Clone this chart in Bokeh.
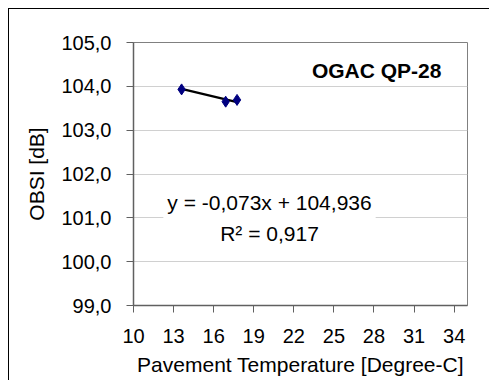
from bokeh.plotting import figure
from bokeh.models import FixedTicker, CustomJSTickFormatter, Label
from bokeh.embed import file_html
from bokeh.resources import INLINE

# data
temps = [13.6, 16.9, 17.75]
obsi = [103.93, 103.65, 103.69]
slope = -0.073
intercept = 104.936
r2_text = "0,917"
eq_text = "y = -0,073x + 104,936"
title_text = "OGAC QP-28"
x_ticks = [10, 13, 16, 19, 22, 25, 28, 31, 34]
y_ticks = [99, 100, 101, 102, 103, 104, 105]

FONT = "Liberation Sans"

# canvas origin at (9, 9): 8px margin + 1px border
p = figure(width=481, height=372, output_backend="svg", toolbar_location=None,
           x_range=(10, 35), y_range=(99, 105),
           min_border_left=124, min_border_right=23, min_border_top=33, min_border_bottom=76,
           styles={"margin-left": "8px", "margin-top": "8px",
                   "border-left": "1px solid black", "border-top": "1px solid black"})
p.outline_line_color = "#808080"
p.outline_line_width = 1
p.background_fill_color = "white"
p.border_fill_color = "white"

p.xgrid.grid_line_color = None
p.ygrid.grid_line_color = "#d0d0d0"
p.ygrid.grid_line_width = 1

for ax in (p.xaxis[0], p.yaxis[0]):
    ax.axis_line_color = "#606060"
    ax.axis_line_width = 1.5
    ax.major_tick_line_color = "#606060"
    ax.major_tick_out = 7
    ax.major_tick_in = 0
    ax.minor_tick_line_color = None
    ax.major_label_text_font = FONT
    ax.major_label_text_font_size = "20px"
    ax.major_label_text_color = "black"
    ax.axis_label_text_font = FONT
    ax.axis_label_text_font_size = "21px"
    ax.axis_label_text_font_style = "normal"
    ax.axis_label_text_color = "black"

p.xaxis.ticker = FixedTicker(ticks=x_ticks)
p.yaxis.ticker = FixedTicker(ticks=y_ticks)
p.yaxis.formatter = CustomJSTickFormatter(code="return tick.toFixed(1).replace('.', ',');")
p.xaxis.axis_label = "Pavement Temperature [Degree-C]"
p.yaxis.axis_label = "OBSI [dB]"
p.xaxis.major_label_standoff = 16
p.xaxis.axis_label_standoff = 7
p.yaxis.major_label_standoff = 15
p.yaxis.axis_label_standoff = 10

# trend line
tx = [min(temps), max(temps)]
ty = [slope * x + intercept for x in tx]
p.line(tx, ty, line_color="black", line_width=2.2)

# points
p.scatter(temps, obsi, marker="diamond", size=11, fill_color="#000080",
          line_color="#000080")

p.add_layout(Label(x=28.2, y=104.37, text=title_text, text_font=FONT,
                   text_font_size="21px", text_font_style="bold", text_color="black",
                   text_align="center", text_baseline="middle"))

p.add_layout(Label(x=20.18, y=101.0, text=eq_text + "\nR\u00b2 = " + r2_text,
                   text_font=FONT, text_font_size="21px", text_color="black",
                   text_line_height=1.35,
                   text_align="center", text_baseline="middle",
                   background_fill_color="white", padding=4))

open("out.html", "w").write(file_html(p, INLINE))
